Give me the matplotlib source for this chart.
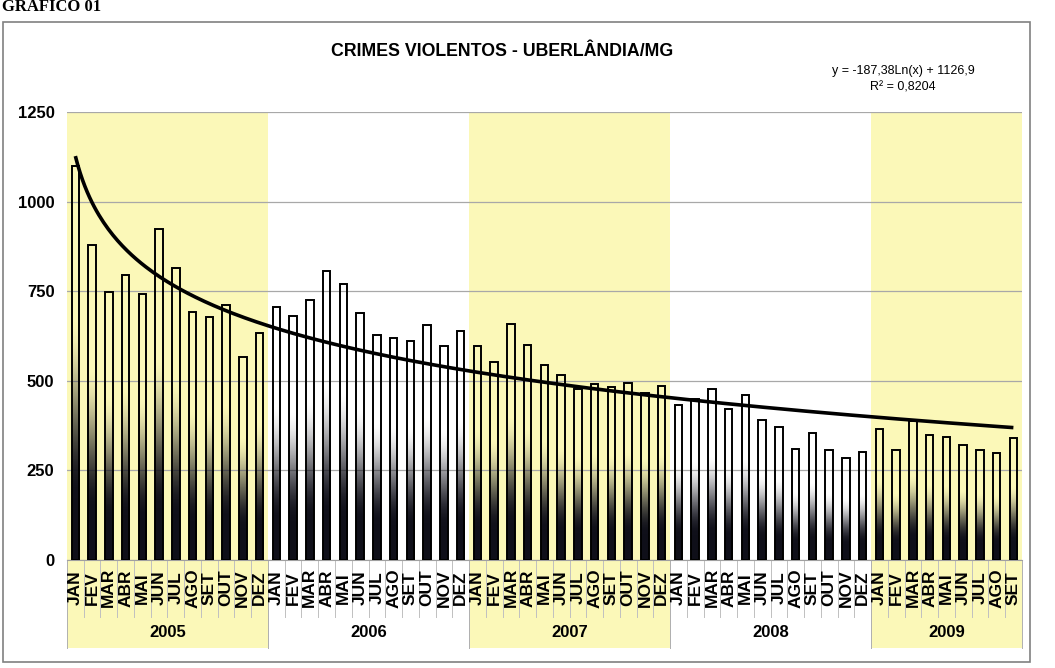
#!/usr/bin/env python3
"""Monthly violent crimes in Uberlandia/MG (2005-2009) with logarithmic trend."""

import matplotlib

matplotlib.use('Agg')
from matplotlib import pyplot as plt  # noqa: E402
from matplotlib import transforms  # noqa: E402
from matplotlib.patches import Rectangle  # noqa: E402
import numpy as np  # noqa: E402


MONTHS = ['JAN', 'FEV', 'MAR', 'ABR', 'MAI', 'JUN', 'JUL', 'AGO', 'SET', 'OUT', 'NOV', 'DEZ']
YEARS = ['2005', '2006', '2007', '2008', '2009']
SHADED_YEARS = ['2005', '2007', '2009']

CRIMES_2005 = [1098, 880, 748, 795, 743, 923, 815, 691, 678, 712, 566, 632]
CRIMES_2006 = [705, 680, 726, 806, 770, 688, 629, 618, 612, 655, 596, 640]
CRIMES_2007 = [598, 553, 658, 600, 545, 515, 476, 490, 482, 493, 467, 486]
CRIMES_2008 = [433, 450, 476, 421, 461, 391, 372, 310, 355, 306, 284, 302]
CRIMES_2009 = [366, 306, 388, 348, 343, 322, 306, 298, 339]

# Excel log trendline as printed on the chart
TREND_SLOPE = -187.38
TREND_INTERCEPT = 1126.9
TREND_TEXT = 'y = -187,38Ln(x) + 1126,9\nR² = 0,8204'

YELLOW = '#fbf8b8'
BAR_WIDTH = 0.45


def main() -> None:
    blocks = [CRIMES_2005, CRIMES_2006, CRIMES_2007, CRIMES_2008, CRIMES_2009]
    values = np.array([v for block in blocks for v in block], dtype=float)
    labels = [MONTHS[i] for block in blocks for i in range(len(block))]
    x = np.arange(len(values))

    plt.rcParams.update({
        'font.family': ['Liberation Sans', 'DejaVu Sans'],
        'font.weight': 'bold',
    })
    fig = plt.figure(figsize=(10.55, 6.68), dpi=100)
    ax = fig.add_axes([0.0635, 0.1617, 0.905, 0.6707])
    below = transforms.blended_transform_factory(ax.transData, ax.transAxes)

    # year shading, also running down behind the category labels
    offset = 0
    year_spans = []
    for year, block in zip(YEARS, blocks):
        start, end = offset - 0.5, offset + len(block) - 0.5
        year_spans.append((year, start, end))
        if year in SHADED_YEARS:
            ax.axvspan(start, end, color=YELLOW, lw=0, zorder=0)
            ax.add_patch(Rectangle((start, -0.196), end - start, 0.196, transform=below,
                                   facecolor=YELLOW, edgecolor='none', clip_on=False, zorder=0))
        offset += len(block)

    # bars: transparent at the top fading into black at the base
    t = np.linspace(0.0, 1.0, 256)
    ramp = np.clip((0.62 - t) / (0.62 - 0.16), 0.0, 1.0)
    ramp = ramp * ramp * (3 - 2 * ramp)
    gradient = np.zeros((256, 1, 4))
    gradient[..., 0] = 0.06
    gradient[..., 1] = 0.06
    gradient[..., 2] = 0.10
    gradient[:, 0, 3] = ramp
    for xi, v in zip(x, values):
        ax.imshow(gradient, extent=(xi - BAR_WIDTH / 2, xi + BAR_WIDTH / 2, 0, v),
                  origin='lower', aspect='auto', interpolation='bilinear', zorder=2)
    ax.bar(x, values, width=BAR_WIDTH, fill=False, edgecolor='black', linewidth=1.4, zorder=3)

    xs = np.linspace(1, len(values), 400)
    ax.plot(xs - 1, TREND_SLOPE * np.log(xs) + TREND_INTERCEPT, color='black',
            linewidth=2.6, zorder=4, solid_capstyle='butt')

    ax.set_xlim(-0.5, len(values) - 0.5)
    ax.set_ylim(0, 1250)
    ax.set_aspect('auto')
    ax.set_yticks(range(0, 1251, 250))
    ax.set_xticks([])
    ax.tick_params(axis='y', length=0, pad=9, labelsize=12)
    ax.yaxis.grid(True, color='#a8a8a8', linewidth=0.9)
    ax.set_axisbelow(True)
    for side in ('left', 'top', 'right'):
        ax.spines[side].set_visible(False)
    ax.spines['bottom'].set_color('#a0a0a0')

    # category table under the plot
    for xi, label in zip(x, labels):
        ax.text(xi, -0.062, label, rotation=90, ha='center', va='center',
                fontsize=12.5, fontweight='bold', transform=below)
    for xi in x[:-1]:
        ax.plot([xi + 0.5, xi + 0.5], [0, -0.128], color='#c0c0c0', linewidth=0.7,
                transform=below, clip_on=False)
    for year, start, end in year_spans:
        ax.text((start + end) / 2, -0.161, year, ha='center', va='center',
                fontsize=12, fontweight='bold', transform=below)
        for edge in (start, end):
            ax.plot([edge, edge], [0, -0.196], color='#b0b0b0', linewidth=0.7,
                    transform=below, clip_on=False)

    fig.text(502 / 1055, 1 - 52 / 668, 'CRIMES VIOLENTOS - UBERLÂNDIA/MG', ha='center',
             va='center', fontsize=12.8, fontweight='bold')
    fig.text(903 / 1055, 1 - 79 / 668, TREND_TEXT, ha='center', va='center',
             fontsize=9, fontweight='normal', linespacing=1.5, multialignment='center')
    fig.text(0.002, 1 - 11 / 668, 'GRÁFICO 01', ha='left', va='baseline', fontsize=12,
             fontweight='bold', family='Liberation Serif')
    fig.add_artist(Rectangle((3 / 1055, 1 - 662 / 668), 1027 / 1055, 640 / 668,
                             transform=fig.transFigure, fill=False, edgecolor='#808080',
                             linewidth=1.2))

    fig.savefig('out.png', dpi=100)
    plt.close(fig)


if __name__ == '__main__':
    main()
